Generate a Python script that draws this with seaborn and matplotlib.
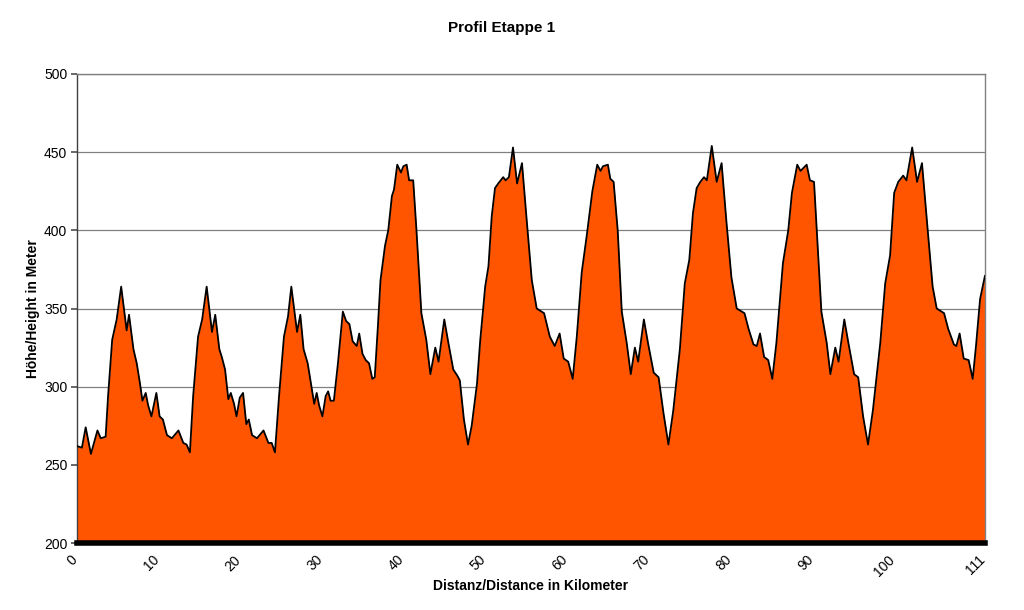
import matplotlib
matplotlib.use('Agg')
import matplotlib.pyplot as plt
import matplotlib.transforms as mtransforms
import seaborn as sns
import pandas as pd

# Profil values (km, m)
distance_km = [
    0.0, 0.6, 1.06, 1.7, 2.5, 2.9, 3.5, 3.8, 4.3, 4.85, 5.4, 6.07, 6.36, 6.9, 7.3, 7.7,
    8.0, 8.4, 8.7, 9.1, 9.7, 10.1, 10.5, 11.0, 11.6, 12.4, 13.0, 13.4, 13.8, 14.2, 14.8,
    15.3, 15.85, 16.5, 16.9, 17.4, 17.7, 18.1, 18.5, 18.8, 19.2, 19.5, 19.9, 20.3, 20.7,
    21.0, 21.4, 22.0, 22.8, 23.4, 23.8, 24.2, 24.7, 25.3, 25.8, 26.2, 26.9, 27.3, 27.7,
    28.2, 29.0, 29.3, 29.6, 30.0, 30.4, 30.7, 31.0, 31.4, 31.9, 32.5, 32.9, 33.3, 33.7,
    34.2, 34.5, 34.9, 35.3, 35.7, 36.1, 36.4, 36.8, 37.1, 37.65, 38.05, 38.5, 38.75,
    39.15, 39.6, 39.9, 40.3, 40.6, 41.1, 41.5, 42.1, 42.7, 43.2, 43.8, 44.2, 44.9, 45.4,
    46.0, 46.5, 46.8, 47.3, 47.8, 48.25, 48.9, 49.3, 49.9, 50.3, 50.7, 51.1, 51.5, 52.1,
    52.4, 52.8, 53.3, 53.8, 54.4, 55.0, 55.6, 56.2, 57.1, 57.8, 58.4, 59.0, 59.5, 60.05,
    60.6, 61.1, 61.7, 62.3, 63.0, 63.6, 64.0, 64.3, 64.9, 65.2, 65.6, 66.1, 66.6, 67.2,
    67.7, 68.2, 68.6, 69.3, 69.8, 70.5, 71.1, 71.7, 72.3, 72.9, 73.7, 74.3, 74.85, 75.3,
    75.75, 76.2, 76.65, 77.0, 77.6, 78.2, 78.8, 79.4, 80.0, 80.65, 81.6, 82.1, 82.7, 83.1,
    83.5, 84.0, 84.5, 85.0, 85.5, 86.3, 86.95, 87.4, 88.05, 88.45, 89.2, 89.6, 90.1, 90.6,
    91.0, 91.65, 92.1, 92.7, 93.1, 93.8, 94.3, 95.0, 95.5, 96.1, 96.7, 97.3, 98.2, 98.8,
    99.4, 99.9, 100.4, 101.0, 101.4, 102.1, 102.7, 103.3, 104.0, 104.6, 105.1, 106.0,
    106.5, 107.2, 107.5, 107.9, 108.4, 109.0, 109.5, 109.9, 110.4, 111.0,
]
height_m = [
    262, 261, 274, 257, 272, 267, 268, 294, 330, 343, 364, 336, 346, 324, 315, 302,
    291, 296, 288, 281, 296, 281, 279, 269, 267, 272, 264, 263, 258, 294, 332,
    343, 364, 335, 346, 324, 319, 311, 292, 296, 289, 281, 293, 296, 276,
    279, 269, 267, 272, 264, 264, 258, 294, 332, 345, 364, 335, 346, 324,
    315, 289, 296, 288, 281, 294, 297, 291, 291, 315, 348, 342, 340, 329,
    326, 334, 321, 317, 315, 305, 306, 340, 368, 390, 400, 422, 426,
    442, 437, 441, 442, 432, 432, 400, 347, 330, 308, 325, 316, 343, 328,
    311, 307, 304, 279, 263, 275, 302, 330, 364, 377, 409, 427, 430, 434,
    432, 434, 453, 430, 443, 405, 368, 350, 347, 332, 326, 334, 318, 316,
    305, 332, 373, 396, 425, 442, 438, 441, 442, 433, 431, 400, 348, 328,
    308, 325, 316, 343, 328, 309, 306, 283, 263, 285, 324, 366, 381, 411,
    427, 431, 434, 432, 454, 431, 443, 405, 370, 350, 347, 337, 327, 326,
    334, 319, 317, 305, 328, 379, 400, 424, 442, 438, 442, 432, 431, 385,
    348, 328, 308, 325, 316, 343, 328, 308, 306, 281, 263, 285, 328, 366,
    384, 424, 431, 435, 432, 453, 431, 443, 400, 364, 350, 347,
    337, 327, 326, 334, 318, 317, 305, 326, 356, 371,
]
x_ticks = [0, 10, 20, 30, 40, 50, 60, 70, 80, 90, 100, 111]
y_ticks = [200, 250, 300, 350, 400, 450, 500]

df = pd.DataFrame({'Distanz': distance_km, 'Hoehe': height_m})

sns.set_theme(style="white")
plt.rcParams['font.family'] = ['Liberation Sans', 'DejaVu Sans']
plt.rcParams['text.color'] = 'black'
plt.rcParams['axes.labelcolor'] = 'black'
plt.rcParams['xtick.color'] = 'black'
plt.rcParams['ytick.color'] = 'black'

fig = plt.figure(figsize=(10.24, 6.10), dpi=100)
ax = fig.add_axes([0.0752, 0.1098, 0.8867, 0.7689])

# area fill + outline
ax.fill_between(df['Distanz'], 200, df['Hoehe'], color='#FF5500', linewidth=0, zorder=2)
sns.lineplot(data=df, x='Distanz', y='Hoehe', color='black', linewidth=1.3, ax=ax, zorder=3)
for ln in ax.get_lines():
    ln.set_solid_joinstyle('round')

ax.set_xlim(0, 111)
ax.set_ylim(200, 500)
ax.set_yticks(y_ticks)
ax.set_xticks(x_ticks)
ax.set_xticklabels([str(t) for t in x_ticks], rotation=45, ha='right',
                   rotation_mode='anchor', fontsize=10)
ax.tick_params(axis='y', labelsize=10, length=4, color='#555555', left=True, pad=3)
ax.tick_params(axis='x', length=0, pad=7)
shift = mtransforms.ScaledTranslation(-7 / 100, 0, fig.dpi_scale_trans)
for lbl in ax.get_xticklabels():
    lbl.set_transform(lbl.get_transform() + shift)

# horizontal grid
ax.yaxis.grid(True, color='#808080', linewidth=0.9, zorder=1)
ax.xaxis.grid(False)
ax.set_axisbelow(True)

for side in ['top', 'right', 'left']:
    ax.spines[side].set_color('#808080')
    ax.spines[side].set_linewidth(1.0)
ax.spines['left'].set_color('#404040')
ax.spines['bottom'].set_color('black')
ax.spines['bottom'].set_linewidth(4)
ax.spines['bottom'].set_zorder(5)

ax.set_xlabel('Distanz/Distance in Kilometer', fontsize=10, fontweight='bold',
              family=['Liberation Sans Narrow', 'Liberation Sans', 'DejaVu Sans'], labelpad=0)
ax.set_ylabel('Höhe/Height in Meter', fontsize=10, fontweight='bold', labelpad=3)
fig.suptitle('Profil Etappe 1', fontsize=11, fontweight='bold', x=0.49, y=0.965)

fig.savefig('out.png', dpi=100)
